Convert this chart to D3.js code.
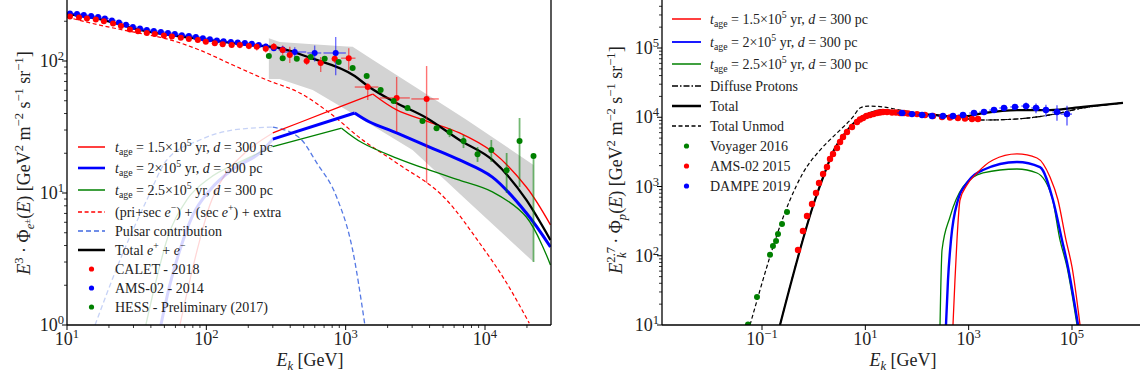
<!DOCTYPE html>
<html><head><meta charset="utf-8">
<script src="https://cdn.jsdelivr.net/npm/d3@7"></script>
<style>body{margin:0;background:#fff}svg{display:block;font-family:'Liberation Serif','DejaVu Serif',serif}</style>
</head><body><script>
// ================= LEFT PANEL DATA (e+ + e-) =================
const xTicksLeft = [10, 100, 1000, 10000];
const yTicksLeft = [1, 10, 100];
const xTicksRight = [0.1, 10, 1000, 100000];
const yTicksRight = [10, 100, 1000, 10000, 100000];

// model curves
const totalE = [10,17.2,33.3,89.7,205,336,552,1161,1440,2245,3810,6560,11300,19800,29500];
const totalF = [227,208,172,147,132,125,106,77,64.7,48.9,37,25.2,17.8,8.86,4.4];

const priSecE = [10,17.2,29.7,52.1,89.7,155,272,468,768,1324,2322,5300,9140,14300,20800];
const priSecF = [215,187,166,147,121,93.2,71.8,57.3,40.4,25.2,16.9,8.86,4.18,2.08,1.03];

const pulsarE = [15.9,24,37.4,52.1,89.7,155,300,468,620,861,1122,1368];
const pulsarF = [1,3.1,8.86,17.8,25.2,30,31.6,26.1,16.9,9.33,3.7,1.03];

const red15E = [64.6,76.2,89.7,106,136,189,300,468,906,1563,2322,3810,6560,11300,19800,29500];
const red15F = [1,2.19,4.4,8.1,13.7,20.1,28.5,34.2,44.9,56.2,42.6,35.1,28.5,20.5,11.1,5.73];

const blue20E = [47.2,54.7,64.6,80,106,160,242,300,1161,1487,2322,4000,6560,11300,19800,29500];
const blue20F = [1,2.01,3.7,6.8,10.5,15.5,20.1,25.6,40.4,34.5,28.5,22.3,17.8,13.2,7.05,3.9];

const green25E = [36.8,42.8,52.1,72.4,106,174,300,935,1324,2322,4000,6560,11300,19800,29500];
const green25F = [1,2.0,4.4,8.86,13,17.2,22.5,31,23.9,18.4,14.9,12.5,10.2,6.58,2.85];

const solidFromE = 300; // below this the pulsar curves are drawn faint

// HESS systematic band
const bandE  = [281,336,580,1016,1122,1563,3020,5300,7360,22300];
const bandHi = [149,139,134,129,128,102,65.5,44.9,35.9,16.3];
const bandLo = [73.1,73.1,60.3,42.6,39.9,32.3,21.2,12.2,8.86,3.0];

// data: AMS-02 2014
const amsE = [10.5,11.8,13.2,14.9,16.7,18.7,21.0,23.6,26.5,29.7,33.4,37.4,42.0,47.2,53.0,59.4,66.7,74.9,84.1,94.4,106,119,133,150,168,189,212,238,267,305,353,431,599,848];
const amsF = [229,227,223,219,215,210,203,196,188,181,176,172,169,166,163,160,157,155,152,149,146,143,141,139,138,137,135,132,129,125,122,117,115,115];
const amsErr = [5,5,5,5,5,5,5,5,5,5,4,4,4,4,4,4,4,4,4,4,4,4,4,4,4,5,5,5,6,6,7,10,16,37];
const amsEw = [0.7,0.8,0.9,1.0,1.1,1.3,1.4,1.6,1.8,2.0,2.3,2.5,2.8,3.2,3.6,4.0,4.5,5.1,5.7,6.4,7.2,8.0,9.0,10,11,13,14,16,18,21,24,90,69,155];

// data: CALET 2018
const calE = [10.5,12.2,13.9,16.1,18.4,21.4,24.4,28.3,32.3,37.4,42.7,49.6,56.6,65.6,74.9,86.9,99.1,115,131,152,174,202,230,267,305,353,397,525,662,834,1052,1440,2322,3810];
const calF = [217,214,210,206,200,192,184,173,168,163,160,156,153,150,147,144,140,136,134,132,132,130,128,124,128,121,111,100,96.6,104,105,63.5,52.5,51.6];
const calLo = [211,208,204,200,194,186,178,168,163,158,155,151,148,145,142,139,135,131,128,126,125,123,120,116,119,111,96.6,93.3,82.5,96.6,85.5,50.7,29,11.9];
const calHi = [223,220,216,212,206,198,190,178,173,168,165,161,158,155,152,149,145,141,140,138,139,137,136,132,137,131,128,107,107,111,125,68.1,75.7,91.6];
const calEw = [0.5,0.6,0.7,0.8,0.9,1.1,1.2,1.4,1.6,1.9,2.1,2.5,2.8,3.3,3.7,4.3,5,5.7,6.5,7.6,8.7,10,11.5,13,15,18,20,26,33,42,124,278,565,850];

// data: HESS preliminary 2017
const hessE  = [281,353,446,561,707,891,1122,1415,1782,2208,2780,3560,4490,5570,7010,8840,11100,14300,17700,22300];
const hessF  = [109,105,104,107,104,98.3,88.5,76.9,60.3,49.8,44.1,35.1,31,29,24.8,19.7,21.2,14.9,24.8,19.1];
const hessLo = [106,102,101,104,101,95.5,86,74.5,58.5,48.3,42.6,33.8,29.7,26.5,21.9,17.2,17.2,10,11.1,3.0];
const hessHi = [112,108,107,110,107,101,91,79.3,62.1,51.3,45.6,36.4,32.3,31,27.5,22.3,25.2,20.1,37,19.4];

// ================= RIGHT PANEL DATA (protons) =================
const pTotalE = [0.223,1.06,1.66,2.37,3.70,5.52,7.88,12.3,22,46.9,204,680,1890,8610,37500,163000,970000];
const pTotalF = [10,638,1620,3150,5360,7730,9750,11500,12700,11900,10800,10090,11500,12700,12700,14100,16100];

const pUnmodE = [0.0586,0.348,0.621,1.33,2.83,5.77,7.88,11.3,22,46.9,204,680,1890,8610,37500,163000,970000];
const pUnmodF = [10,638,1567,3360,5930,10100,13600,14500,14100,12700,10800,9750,9120,9440,10800,13600,16100];

const pDiffE = [0.223,1.06,1.66,2.37,3.70,5.52,7.88,12.3,22,46.9,204,680,1890,8610,37500,163000,970000];
const pDiffF = [10,638,1620,3150,5360,7730,9750,11500,12700,11900,10800,9750,9120,9440,10800,13600,16100];

const pRedE = [497,543,594,680,927,1449,2956,8610,21000,37500,53500,76400,100000,143000];
const pRedF = [10,44.7,169,638,1050,1567,2415,2950,2580,1371,638,169,68.9,10];
const pBlueE = [364,398,455,621,927,1890,8610,24000,42800,64000,83600,131000];
const pBlueF = [10,44.7,169,638,1125,1730,2260,1910,638,169,68.9,10];
const pGreenE = [279,305,435,776,1890,8610,21000,41000,58500,80000,125000];
const pGreenF = [10,121,363,984,1567,1790,1567,705,169,68.9,10];

const voyE = [0.0536,0.080,0.143,0.163,0.187,0.204,0.244,0.305];
const voyF = [10.2,25.4,103,138,163,206,287,428];

const amsPE = [0.498,0.621,0.743,0.929,1.11,1.27,1.52,1.81,2.07,2.37,2.83,3.24,3.70,4.42,5.52,6.90,7.88,9.02,10.5,12.3,14.4,16.8,19.2,22,26.3,32.8,39.2,46.9,56,67,100,143,204,305,435,621,849,1160,1514];
const amsPF = [121,228,375,559,805,1124,1517,1915,2497,2946,3597,4393,5190,6125,7230,8535,9290,9750,10400,10780,11100,11500,11700,11900,11900,11700,11700,11500,11500,11300,11100,10780,10400,10090,9910,9750,9590,9440,9440];

const dampeE = [51.3,80,125,195,318,497,776,1268,1980,3090,4830,7890,12900,20100,31300,51200,80000];
const dampeF = [11500,11100,10780,10400,10400,10400,10780,11500,11900,12700,13600,14100,14500,13600,12700,11900,11100];
const dampeErr = [200,200,250,250,300,300,350,450,550,900,1200,1400,1800,2200,2500,3000,3500];
const dampeEw = [10,15,24,37,60,94,147,240,375,585,915,1500,2440,3800,5900,9700,20000];

// ================= DRAWING =================
const W = 1140, H = 380;
const svg = d3.select('body').append('svg').attr('width', W).attr('height', H);
const FONT_TICK = 18, FONT_LAB = 18, FONT_LEG = 14;

function rich(sel, parts, fs) {
  let cur = 0;
  parts.forEach(p => {
    const [t, k = '', dx] = p;
    let off = 0, size = fs;
    if (k.includes('^')) { off = -0.38 * fs; size = 0.7 * fs; }
    if (k.includes('_')) { off = 0.22 * fs; size = 0.7 * fs; }
    if (k.includes('~')) { off = 0.02 * fs; size = 0.5 * fs; }
    const ts = sel.append('tspan').attr('dy', off - cur).attr('font-size', size).text(t);
    if (dx) ts.attr('dx', dx);
    if (k.includes('i')) ts.attr('font-style', 'italic');
    cur = off;
  });
}
const supLabel = v => { const e = Math.round(Math.log10(v)); return [["10", ""], [e < 0 ? "\u2212" + (-e) : String(e), "^"]]; };

function logMinors(lo, hi) {
  const out = [];
  for (let d = Math.floor(Math.log10(lo)); d <= Math.ceil(Math.log10(hi)); d++)
    for (let s = 2; s <= 9; s++) { const v = s * Math.pow(10, d); if (v >= lo && v <= hi) out.push(v); }
  return out;
}

function panel(cfg) {
  const { left, right, bottom, top, id } = cfg;
  svg.append('clipPath').attr('id', id).append('rect')
    .attr('x', left).attr('y', top).attr('width', right - left).attr('height', bottom - top);
  return svg.append('g').attr('clip-path', `url(#${id})`);
}

function line(g, xs, ys, E, F, st, curve) {
  const pts = E.map((e, i) => [xs(e), ys(F[i])]);
  const p = g.append('path').attr('d', d3.line().curve(curve || d3.curveMonotoneX)(pts))
    .attr('fill', 'none').attr('stroke', st.c).attr('stroke-width', st.w || 1.3).attr('stroke-linejoin', 'round');
  if (st.dash) p.attr('stroke-dasharray', st.dash);
  if (st.op != null) p.attr('stroke-opacity', st.op);
  return p;
}

function pulsarCurve(g, xs, ys, E, F, st) {
  const faintI = E.map((e, i) => i).filter(i => E[i] <= solidFromE);
  const solidI = E.map((e, i) => i).filter(i => E[i] >= solidFromE);
  line(g, xs, ys, faintI.map(i => E[i]), faintI.map(i => F[i]), { c: st.c, w: st.w, op: 0.16 });
  let pk = solidI[0];
  solidI.forEach(i => { if (F[i] > F[pk]) pk = i; });
  const rise = solidI.filter(i => i <= pk), fall = solidI.filter(i => i >= pk);
  line(g, xs, ys, rise.map(i => E[i]), rise.map(i => F[i]), { c: st.c, w: st.w }, d3.curveLinear);
  line(g, xs, ys, fall.map(i => E[i]), fall.map(i => F[i]), { c: st.c, w: st.w }, d3.curveCatmullRom.alpha(0.5));
}

function errV(g, xs, ys, E, lo, hi, c, w, op) {
  E.forEach((e, i) => g.append('line').attr('x1', xs(e)).attr('x2', xs(e)).attr('y1', ys(lo[i])).attr('y2', ys(hi[i]))
    .attr('stroke', c).attr('stroke-width', w).attr('stroke-opacity', op));
}
function errH(g, xs, ys, F, elo, ehi, c, w, op) {
  F.forEach((f, i) => g.append('line').attr('x1', xs(elo[i])).attr('x2', xs(ehi[i])).attr('y1', ys(f)).attr('y2', ys(f))
    .attr('stroke', c).attr('stroke-width', w).attr('stroke-opacity', op));
}
function dots(g, xs, ys, E, F, c, r) {
  E.forEach((e, i) => g.append('circle').attr('cx', xs(e)).attr('cy', ys(F[i])).attr('r', r).attr('fill', c));
}

function axes(cfg) {
  const { xs, ys, left, right, bottom, xMaj, yMaj, xMin, yMin, spineRight } = cfg;
  const a = svg.append('g').attr('stroke', '#000');
  a.append('line').attr('x1', left).attr('x2', left).attr('y1', 0).attr('y2', bottom).attr('stroke-width', 1.3);
  a.append('line').attr('x1', left).attr('x2', right).attr('y1', bottom).attr('y2', bottom).attr('stroke-width', 1.3);
  if (spineRight) a.append('line').attr('x1', right).attr('x2', right).attr('y1', 0).attr('y2', bottom).attr('stroke-width', 1.3);
  xMaj.forEach(v => a.append('line').attr('x1', xs(v)).attr('x2', xs(v)).attr('y1', bottom).attr('y2', bottom + 5).attr('stroke-width', 1));
  xMin.forEach(v => a.append('line').attr('x1', xs(v)).attr('x2', xs(v)).attr('y1', bottom).attr('y2', bottom + 3).attr('stroke-width', 0.8));
  yMaj.forEach(v => a.append('line').attr('y1', ys(v)).attr('y2', ys(v)).attr('x1', left).attr('x2', left - 5).attr('stroke-width', 1));
  yMin.forEach(v => a.append('line').attr('y1', ys(v)).attr('y2', ys(v)).attr('x1', left).attr('x2', left - 3).attr('stroke-width', 0.8));
  xMaj.forEach(v => {
    const t = svg.append('text').attr('x', xs(v)).attr('y', bottom + 20).attr('text-anchor', 'middle').attr('font-size', FONT_TICK).attr('fill', '#222');
    rich(t, supLabel(v), FONT_TICK);
  });
  yMaj.forEach(v => {
    const t = svg.append('text').attr('x', left - 3).attr('y', ys(v) + 6).attr('text-anchor', 'end').attr('font-size', FONT_TICK).attr('fill', '#222');
    rich(t, supLabel(v), FONT_TICK);
  });
}

function legend(items, ys0, x1, x2, xt) {
  const g = svg.append('g');
  items.forEach((it, i) => {
    const y = ys0[i];
    if (it.type === 'line') {
      const l = g.append('line').attr('x1', x1).attr('x2', x2).attr('y1', y).attr('y2', y)
        .attr('stroke', it.c).attr('stroke-width', it.w || 1.5);
      if (it.dash) l.attr('stroke-dasharray', it.dash);
    } else {
      g.append('circle').attr('cx', (x1 + x2) / 2).attr('cy', y).attr('r', 2.6).attr('fill', it.c);
    }
    const t = g.append('text').attr('x', xt).attr('y', y + 4.5).attr('font-size', FONT_LEG).attr('fill', '#222');
    rich(t, it.label, FONT_LEG);
  });
}
const tage = v => [["t", "i"], ["age", "_"], [` = ${v}\u00d710`, ""], ["5", "^"], [" yr, ", ""], ["d", "i"], [" = 300 pc", ""]];

// ---------------- LEFT ----------------
const xL = d3.scaleLog().domain([10, 1e4]).range([67, 485]);
const yL = d3.scaleLog().domain([1, 100]).range([325, 61]);
const L = { left: 67, right: 551, top: 0, bottom: 325 };
const gL = panel({ ...L, id: 'clipL' });

gL.append('path').attr('d', d3.area().x((d, i) => xL(bandE[i])).y0((d, i) => yL(bandLo[i])).y1((d, i) => yL(bandHi[i]))(bandE))
  .attr('fill', '#d3d3d3');

line(gL, xL, yL, priSecE, priSecF, { c: 'red', w: 1.2, dash: '4,2.6' });
{
  const fa = pulsarE.map((e, i) => i).filter(i => pulsarE[i] <= solidFromE);
  const so = pulsarE.map((e, i) => i).filter(i => pulsarE[i] >= solidFromE);
  line(gL, xL, yL, fa.map(i => pulsarE[i]), fa.map(i => pulsarF[i]), { c: '#4169e1', w: 1.3, dash: '5,3', op: 0.3 });
  line(gL, xL, yL, so.map(i => pulsarE[i]), so.map(i => pulsarF[i]), { c: '#4169e1', w: 1.3, dash: '5,3', op: 0.9 });
}
pulsarCurve(gL, xL, yL, green25E, green25F, { c: 'green', w: 1.3 });
pulsarCurve(gL, xL, yL, red15E, red15F, { c: 'red', w: 1.3 });
pulsarCurve(gL, xL, yL, blue20E, blue20F, { c: 'blue', w: 3 });
line(gL, xL, yL, totalE, totalF, { c: '#000', w: 2.3 });

// data
errV(gL, xL, yL, amsE, amsE.map((e, i) => amsF[i] - amsErr[i]), amsE.map((e, i) => amsF[i] + amsErr[i]), 'blue', 1.4, 0.55);
errH(gL, xL, yL, amsF, amsE.map((e, i) => e - amsEw[i]), amsE.map((e, i) => e + amsEw[i]), 'blue', 1.4, 0.55);
errV(gL, xL, yL, calE, calLo, calHi, 'red', 1.4, 0.55);
errH(gL, xL, yL, calF, calE.map((e, i) => e - calEw[i]), calE.map((e, i) => e + calEw[i]), 'red', 1.4, 0.55);
errV(gL, xL, yL, hessE, hessLo, hessHi, 'green', 1.8, 0.55);
dots(gL, xL, yL, amsE, amsF, 'blue', 3);
dots(gL, xL, yL, calE, calF, 'red', 3);
dots(gL, xL, yL, hessE, hessF, 'green', 3);

axes({ xs: xL, ys: yL, ...L, xMaj: xTicksLeft, yMaj: yTicksLeft,
  xMin: logMinors(10, xL.invert(L.right)), yMin: logMinors(1, yL.invert(0)), spineRight: true });

{
  const t = svg.append('text').attr('x', 310).attr('y', 366).attr('text-anchor', 'middle').attr('font-size', FONT_LAB).attr('fill', '#222');
  rich(t, [["E", "i"], ["k", "_i"], [" [GeV]", ""]], FONT_LAB);
  const ty = svg.append('text').attr('transform', 'translate(30,163) rotate(-90)').attr('text-anchor', 'middle').attr('font-size', FONT_LAB).attr('fill', '#222');
  rich(ty, [["E", "i"], ["3", "^"], [" \u00b7 \u03a6", ""], ["e", "_i"], ["\u00b1", "~"], ["(", ""], ["E", "i"], [") [GeV", ""], ["2", "^"], [" m", ""], ["\u22122", "^"], [" s", ""], ["\u22121", "^"], [" sr", ""], ["\u22121", "^"], ["]", ""]], FONT_LAB);
}

legend([
  { type: 'line', c: 'red', w: 1.5, label: tage('1.5') },
  { type: 'line', c: 'blue', w: 2.6, label: tage('2') },
  { type: 'line', c: 'green', w: 1.5, label: tage('2.5') },
  { type: 'line', c: 'red', w: 1.3, dash: '4,2.6', label: [["(pri+sec ", ""], ["e", "i"], ["\u2212", "^"], [") + (sec ", ""], ["e", "i"], ["+", "^"], [") + extra", ""]] },
  { type: 'line', c: '#4169e1', w: 1.3, dash: '5,3', label: [["Pulsar contribution", ""]] },
  { type: 'line', c: '#000', w: 2.5, label: [["Total ", ""], ["e", "i"], ["+", "^"], [" + ", ""], ["e", "i"], ["\u2212", "^"]] },
  { type: 'dot', c: 'red', label: [["CALET - 2018", ""]] },
  { type: 'dot', c: 'blue', label: [["AMS-02 - 2014", ""]] },
  { type: 'dot', c: 'green', label: [["HESS - Preliminary (2017)", ""]] }
], [147, 168, 190, 212, 231, 250, 269, 288, 307], 78, 105, 115);

// ---------------- RIGHT ----------------
const xR = d3.scaleLog().domain([0.1, 1e5]).range([762, 1072]);
const yR = d3.scaleLog().domain([10, 1e5]).range([325, 48]);
const R = { left: 662, right: 1140, top: 0, bottom: 325 };
const gR = panel({ ...R, id: 'clipR' });

line(gR, xR, yR, pGreenE, pGreenF, { c: 'green', w: 1.3 });
line(gR, xR, yR, pBlueE, pBlueF, { c: 'blue', w: 2.4 });
line(gR, xR, yR, pRedE, pRedF, { c: 'red', w: 1.3 });
line(gR, xR, yR, pDiffE, pDiffF, { c: '#000', w: 1.2, dash: '6,2,1.5,2' });
line(gR, xR, yR, pUnmodE, pUnmodF, { c: '#000', w: 1.2, dash: '4,2.5' });
line(gR, xR, yR, pTotalE, pTotalF, { c: '#000', w: 2.2 });

dots(gR, xR, yR, voyE, voyF, 'green', 3);
dots(gR, xR, yR, amsPE, amsPF, 'red', 3.2);
errV(gR, xR, yR, dampeE, dampeE.map((e, i) => dampeF[i] - dampeErr[i]), dampeE.map((e, i) => dampeF[i] + dampeErr[i]), 'blue', 1.5, 0.6);
errH(gR, xR, yR, dampeF, dampeE.map((e, i) => e - dampeEw[i]), dampeE.map((e, i) => e + dampeEw[i]), 'blue', 1.5, 0.6);
dots(gR, xR, yR, dampeE, dampeF, 'blue', 3.2);

axes({ xs: xR, ys: yR, ...R, xMaj: xTicksRight, yMaj: yTicksRight,
  xMin: [], yMin: logMinors(10, yR.invert(0)), spineRight: false });

{
  const t = svg.append('text').attr('x', 903).attr('y', 366).attr('text-anchor', 'middle').attr('font-size', FONT_LAB).attr('fill', '#222');
  rich(t, [["E", "i"], ["k", "_i"], [" [GeV]", ""]], FONT_LAB);
  const ty = svg.append('text').attr('transform', 'translate(622,160) rotate(-90)').attr('text-anchor', 'middle').attr('font-size', FONT_LAB).attr('fill', '#222');
  rich(ty, [["E", "i"], ["2.7", "^"], ["k", "_i", -11], [" \u00b7 \u03a6", "", 4], ["p", "_i"], ["(", ""], ["E", "i"], [") [GeV", ""], ["2", "^"], [" m", ""], ["\u22122", "^"], [" s", ""], ["\u22121", "^"], [" sr", ""], ["\u22121", "^"], ["]", ""]], FONT_LAB);
}

legend([
  { type: 'line', c: 'red', w: 1.5, label: tage('1.5') },
  { type: 'line', c: 'blue', w: 1.8, label: tage('2') },
  { type: 'line', c: 'green', w: 1.5, label: tage('2.5') },
  { type: 'line', c: '#000', w: 1.3, dash: '6,2,1.5,2', label: [["Diffuse Protons", ""]] },
  { type: 'line', c: '#000', w: 2.5, label: [["Total", ""]] },
  { type: 'line', c: '#000', w: 1.3, dash: '4,2.5', label: [["Total Unmod", ""]] },
  { type: 'dot', c: 'green', label: [["Voyager 2016", ""]] },
  { type: 'dot', c: 'red', label: [["AMS-02 2015", ""]] },
  { type: 'dot', c: 'blue', label: [["DAMPE 2019", ""]] }
], [19, 42, 64, 86, 106, 126, 146, 166, 186], 672, 701, 710);
</script></body></html>
